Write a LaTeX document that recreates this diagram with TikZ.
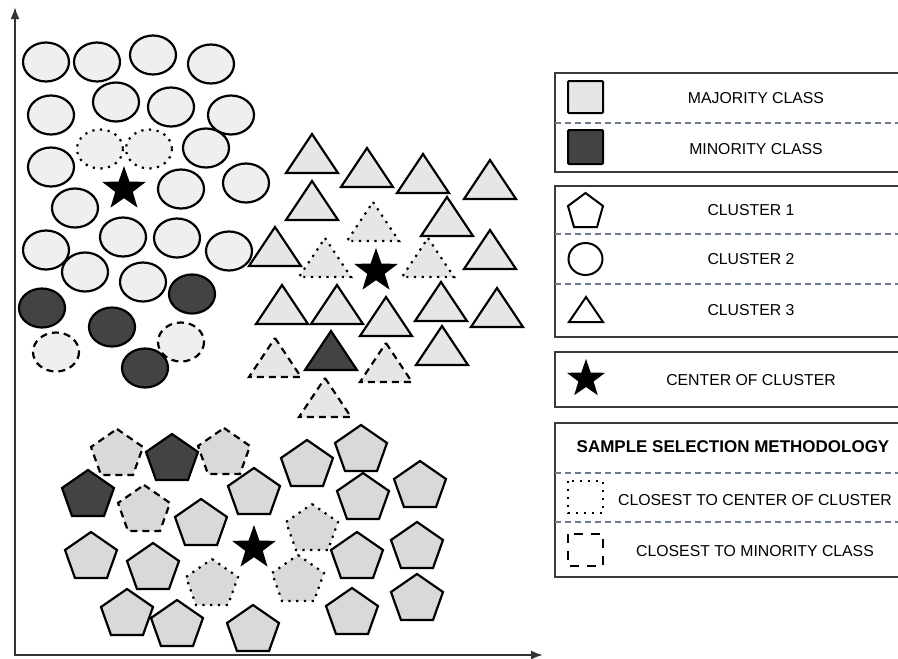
\documentclass[tikz,border=0pt]{standalone}
\usepackage{fontspec}
\setmainfont{Liberation Sans}
\usetikzlibrary{shapes.geometric,arrows.meta}

\definecolor{ovalfill}{HTML}{EFEFEF}
\definecolor{trifill}{HTML}{E6E6E6}
\definecolor{pentfill}{HTML}{D9D9D9}
\definecolor{minofill}{HTML}{434343}
\definecolor{sepline}{HTML}{6D7B8D}
\definecolor{boxline}{HTML}{3A3A3A}
\definecolor{axisline}{HTML}{333333}

\tikzset{
  % sample shapes, drawn around their origin
  pics/oval/.style={code={\path[pic actions] (0,0) ellipse [x radius=23, y radius=19.5];}},
  pics/tri/.style={code={\path[pic actions] (0,0) -- (26,39) -- (-26,39) -- cycle;}},
  pics/penta/.style={code={\path[pic actions] (0,-25) -- (26,-7) -- (16,21) -- (-16,21) -- (-26,-7) -- cycle;}},
  outl/.style={draw=black, line width=2.2pt, line join=miter},
  maj/.style={outl},
  mino/.style={outl, fill=minofill},
  dotsel/.style={draw=black, line width=2.2pt, dash pattern=on 2.2pt off 5.5pt},
  dashsel/.style={draw=black, line width=2.2pt, dash pattern=on 7pt off 5pt},
  centerstar/.style={star, star points=5, star point ratio=2.5, fill=black, draw=none,
    inner sep=0pt, minimum size=46pt},
  legbox/.style={draw=boxline, line width=1.4pt},
  legsep/.style={draw=sepline, line width=1.2pt, dash pattern=on 6pt off 4pt},
  legtext/.style={font=\fontsize{15.8}{18}\selectfont, inner sep=0pt},
  legtitle/.style={font=\fontsize{17}{19}\selectfont\bfseries, inner sep=0pt},
  legicon/.style={draw=black, line width=2pt, rounded corners=1pt},
}

\begin{document}
\begin{tikzpicture}[x=1pt, y=-1pt]
\useasboundingbox (0,0) rectangle (898,659);
\clip (0,0) rectangle (898,659);

% axes
\coordinate (ytip) at (15,7);
\coordinate (origin) at (15,655);
\coordinate (xtip) at (543,655);
\draw[axisline, line width=2pt, {Latex[length=12pt,width=9pt]}-{Latex[length=12pt,width=9pt]}]
  (ytip) -- (origin) -- (xtip);

% ---- cluster 2: ovals ----
\foreach \x/\y in {46/62, 97/62, 153/55, 211/64, 51/115, 116/102, 171/107, 231/115,
  206/148, 51/167, 181/189, 246/183, 75/208, 123/237, 177/238, 229/251, 46/250,
  85/272, 143/282}
  \pic[maj, fill=ovalfill] at (\x,\y) {oval};
\foreach \x/\y in {100/149, 149/149}
  \pic[dotsel, fill=ovalfill] at (\x,\y) {oval};
\foreach \x/\y in {56/352, 181/342}
  \pic[dashsel, fill=ovalfill] at (\x,\y) {oval};
\foreach \x/\y in {192/294, 42/308, 112/327, 145/368}
  \pic[mino] at (\x,\y) {oval};
\node[centerstar] (star2) at (124,189) {};

% ---- cluster 3: triangles ----
\foreach \x/\y in {312/134, 367/148, 423/154, 490/160, 312/181, 447/197, 275/227,
  490/230, 282/285, 337/285, 386/297, 441/282, 497/288, 442/326}
  \pic[maj, fill=trifill] at (\x,\y) {tri};
\foreach \x/\y in {373/202, 325/238, 428/238}
  \pic[dotsel, fill=trifill] at (\x,\y) {tri};
\foreach \x/\y in {275/338, 386/343, 325/378}
  \pic[dashsel, fill=trifill] at (\x,\y) {tri};
\pic[mino] at (331,331) {tri};
\node[centerstar] (star3) at (376,271) {};

% ---- cluster 1: pentagons ----
\foreach \x/\y in {307/465, 361/450, 254/493, 363/498, 420/486, 201/524, 91/557,
  153/568, 357/557, 417/547, 127/614, 177/625, 253/630, 352/613, 417/599}
  \pic[maj, fill=pentfill] at (\x,\y) {penta};
\foreach \x/\y in {312/529, 212/584, 298/580}
  \pic[dotsel, fill=pentfill] at (\x,\y) {penta};
\foreach \x/\y in {117/454, 224/453, 144/510}
  \pic[dashsel, fill=pentfill] at (\x,\y) {penta};
\foreach \x/\y in {172/459, 88/495}
  \pic[mino] at (\x,\y) {penta};
\node[centerstar] (star1) at (254,548) {};

% ---- legend: classes ----
\draw[legbox] (555,73) rectangle (910,172);
\draw[legsep] (555,123) -- (910,123);
\draw[legicon, fill=trifill] (568,81) rectangle (603,113);
\draw[legicon, fill=minofill] (568,130) rectangle (603,164);
\node[legtext] (tmaj) at (756,98) {MAJORITY CLASS};
\node[legtext] (tmin) at (756,149) {MINORITY CLASS};

% ---- legend: clusters ----
\draw[legbox] (555,186) rectangle (910,337);
\draw[legsep] (555,234) -- (910,234);
\draw[legsep] (555,284) -- (910,284);
\draw[draw=black, line width=2pt, line join=miter]
  (585.5,193) -- (603,206) -- (597,227) -- (574,227) -- (568,206) -- cycle;
\draw[draw=black, line width=2pt] (585.5,259) ellipse [x radius=17, y radius=16];
\draw[draw=black, line width=2pt, line join=miter]
  (586,297) -- (603,322) -- (569,322) -- cycle;
\node[legtext] (tc1) at (751,210) {CLUSTER 1};
\node[legtext] (tc2) at (751,259) {CLUSTER 2};
\node[legtext] (tc3) at (751,310) {CLUSTER 3};

% ---- legend: center ----
\draw[legbox] (555,352) rectangle (910,407);
\node[centerstar, minimum size=40pt] (legstar) at (586,379) {};
\node[legtext] (tcen) at (751,380) {CENTER OF CLUSTER};

% ---- legend: selection methodology ----
\draw[legbox] (555,423) rectangle (910,577);
\draw[legsep] (555,473) -- (910,473);
\draw[legsep] (555,522) -- (910,522);
\node[legtitle] (tsel) at (733,447) {SAMPLE SELECTION METHODOLOGY};
\draw[draw=black, line width=2pt, dash pattern=on 2pt off 6pt] (568,481) rectangle (603,513);
\draw[draw=black, line width=2pt, dash pattern=on 9pt off 8pt] (568,534) rectangle (603,566);
\node[legtext] (tnc) at (755,500) {CLOSEST TO CENTER OF CLUSTER};
\node[legtext] (tnm) at (755,551) {CLOSEST TO MINORITY CLASS};
\end{tikzpicture}
\end{document}
